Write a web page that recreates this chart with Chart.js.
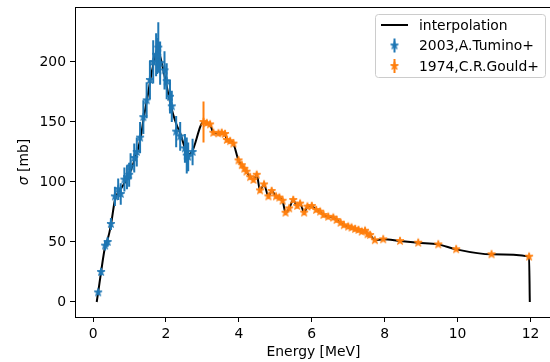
<!DOCTYPE html>
<html>
<head>
<meta charset="utf-8">
<script src="https://cdn.jsdelivr.net/npm/chart.js@4.4.0/dist/chart.umd.min.js"></script>
<style>
  html, body { margin: 0; padding: 0; background: #fff; overflow: hidden; }
  #wrap { width: 550px; height: 362px; }
</style>
</head>
<body>
<div id="wrap"><canvas id="chart" width="550" height="362"></canvas></div>
<script>
// Sigma vs energy - interpolation + two measurements

const seriesLabels = ['interpolation', '2003,A.Tumino+', '1974,C.R.Gould+'];
const xTicks = [0, 2, 4, 6, 8, 10, 12];
const yTicks = [0, 50, 100, 150, 200];

// 2003, A.Tumino+
const tuminoE   = [0.14, 0.22, 0.33, 0.40, 0.49, 0.60, 0.69, 0.76, 0.86, 0.93, 0.99, 1.03, 1.13, 1.20, 1.29, 1.38, 1.47, 1.56, 1.65, 1.73, 1.76, 1.79, 1.84, 1.96, 2.02, 2.11, 2.16, 2.28, 2.39, 2.52, 2.57, 2.61, 2.73];
const tuminoS   = [8, 25, 47, 50, 65, 88, 94, 90, 102, 104, 106, 113, 120, 125, 137, 154, 168, 185, 200, 206, 205, 212, 199, 193, 184, 171, 163, 142, 138, 128, 122, 121, 125];
const tuminoErr = [2, 3, 4, 4, 5, 8, 9, 9, 10, 10, 10, 11, 12, 12, 13, 14, 15, 16, 18, 18, 15, 21, 18, 16, 15, 14, 13, 13, 12, 12, 15, 12, 11];

// 1974, C.R.Gould+
const gouldE = [3.03, 3.12, 3.21, 3.30, 3.44, 3.53, 3.62, 3.67, 3.76, 3.85, 3.99, 4.08, 4.15, 4.21, 4.31, 4.40, 4.49, 4.58, 4.69, 4.81, 4.90, 5.02, 5.11, 5.20, 5.28, 5.38, 5.49, 5.60, 5.68, 5.79, 5.88, 6.00, 6.12, 6.23, 6.32, 6.45, 6.59, 6.68, 6.79, 6.88, 7.00, 7.09, 7.19, 7.28, 7.37, 7.46, 7.53, 7.60, 7.73, 7.96, 8.42, 8.92, 9.47, 9.96, 10.93, 11.96];
const gouldS = [150, 149, 148, 141, 140.5, 141, 140, 135, 134, 132, 118, 114, 111, 108.6, 104, 101.7, 106, 93, 98, 88, 92.5, 88, 87, 84.4, 74.4, 78, 85, 80, 82, 74.5, 79.5, 80, 76.7, 75.3, 72.5, 71, 70.3, 68.3, 66, 64, 62.8, 62, 60.8, 60, 58.6, 59.4, 56.4, 55.8, 51.5, 52.2, 50.8, 49.4, 48, 43.9, 39.7, 37.8];
const gouldErr = [17, 2, 2, 2, 2, 2, 2, 2, 2, 2, 2, 2, 2, 2, 2, 2, 2, 2, 2, 2, 2, 2, 2, 2, 2, 2, 2, 2, 2, 2, 2, 2, 2, 2, 2, 2, 2, 2, 2, 2, 2, 2, 2, 2, 2, 2, 2, 2, 1, 1, 1, 1, 1, 1, 1, 1];

// interpolation curve: smooth part over the Tumino range, then through the Gould points, then drop to 0
const interpHeadE = [0.10, 0.14, 0.22, 0.33, 0.40, 0.49, 0.60, 0.70, 0.80, 0.90, 1.00, 1.10, 1.20, 1.30, 1.40, 1.50, 1.60, 1.70, 1.76, 1.82, 1.90, 2.00, 2.10, 2.20, 2.30, 2.40, 2.50, 2.59, 2.71];
const interpHeadS = [0, 8, 25, 46, 52, 64, 85, 92, 96, 101, 107, 115, 124, 136, 155, 172, 190, 204, 210, 207, 197, 183, 168, 156, 147, 140, 130, 123, 125];
const interpTailE = [11.98];
const interpTailS = [0];

const BLUE = '#1f77b4';
const ORANGE = '#ff7f0e';
const FONT = "'DejaVu Sans', sans-serif";
const FS = 13.9;

function makeStar(color, r) {
    const c = document.createElement('canvas');
    const s = Math.ceil(r * 2 + 3);
    c.width = s; c.height = s;
    const g = c.getContext('2d');
    g.translate(s / 2, s / 2);
    g.beginPath();
    for (let i = 0; i < 10; i++) {
        const rad = i % 2 ? r * 0.382 : r;
        const a = -Math.PI / 2 + i * Math.PI / 5;
        g.lineTo(rad * Math.cos(a), rad * Math.sin(a));
    }
    g.closePath();
    g.fillStyle = color;
    g.fill();
    g.strokeStyle = color;
    g.lineWidth = 1;
    g.stroke();
    return c;
}

const starBlue = makeStar(BLUE, 4.2);
const starOrange = makeStar(ORANGE, 4.2);

const toPoints = (xs, ys) => xs.map((x, i) => ({ x: x, y: ys[i] }));

const errorBars = {
    id: 'errorBars',
    afterDatasetDraw(chart, args) {
        if (args.index !== 0) return;
        const { ctx, chartArea, scales: { x, y } } = chart;
        ctx.save();
        ctx.beginPath();
        ctx.rect(chartArea.left, chartArea.top, chartArea.width, chartArea.height);
        ctx.clip();
        ctx.lineWidth = 2;
        [[tuminoE, tuminoS, tuminoErr, BLUE], [gouldE, gouldS, gouldErr, ORANGE]].forEach(([es, ss, errs, col]) => {
            ctx.strokeStyle = col;
            ctx.beginPath();
            es.forEach((e, i) => {
                const px = x.getPixelForValue(e);
                ctx.moveTo(px, y.getPixelForValue(ss[i] - errs[i]));
                ctx.lineTo(px, y.getPixelForValue(ss[i] + errs[i]));
            });
            ctx.stroke();
        });
        ctx.restore();
    }
};

const frame = {
    id: 'frame',
    afterDraw(chart) {
        const { ctx, chartArea } = chart;
        ctx.save();
        // top spine (right spine falls just outside the picture)
        ctx.strokeStyle = '#000';
        ctx.lineWidth = 1;
        ctx.beginPath();
        ctx.moveTo(chartArea.left, chartArea.top + 0.5);
        ctx.lineTo(chartArea.right, chartArea.top + 0.5);
        ctx.stroke();

        // axis titles
        ctx.fillStyle = '#000';
        ctx.textBaseline = 'alphabetic';
        ctx.font = `${FS}px ${FONT}`;
        ctx.textAlign = 'center';
        ctx.fillText('Energy [MeV]', 313.5, 356);

        ctx.translate(28, (chartArea.top + chartArea.bottom) / 2);
        ctx.rotate(-Math.PI / 2);
        ctx.textAlign = 'left';
        ctx.font = `italic ${FS}px ${FONT}`;
        const w1 = ctx.measureText('σ').width;
        ctx.font = `${FS}px ${FONT}`;
        const w2 = ctx.measureText(' [mb]').width;
        const x0 = -(w1 + w2) / 2;
        ctx.font = `italic ${FS}px ${FONT}`;
        ctx.fillText('σ', x0, 0);
        ctx.font = `${FS}px ${FONT}`;
        ctx.fillText(' [mb]', x0 + w1, 0);
        ctx.restore();

        // legend
        ctx.save();
        ctx.beginPath();
        ctx.roundRect(375.5, 14.5, 170, 63, 3);
        ctx.fillStyle = 'rgba(255,255,255,0.8)';
        ctx.fill();
        ctx.strokeStyle = '#cccccc';
        ctx.lineWidth = 1;
        ctx.stroke();

        ctx.strokeStyle = '#000';
        ctx.lineWidth = 2;
        ctx.beginPath();
        ctx.moveTo(381, 25);
        ctx.lineTo(408, 25);
        ctx.stroke();

        [[BLUE, starBlue, 45.5], [ORANGE, starOrange, 66]].forEach(([col, star, cy]) => {
            ctx.strokeStyle = col;
            ctx.beginPath();
            ctx.moveTo(394.5, cy - 7);
            ctx.lineTo(394.5, cy + 7);
            ctx.stroke();
            ctx.drawImage(star, 394.5 - star.width / 2, cy - star.height / 2);
        });

        ctx.fillStyle = '#000';
        ctx.font = `${FS}px ${FONT}`;
        ctx.textAlign = 'left';
        ctx.fillText(seriesLabels[0], 419, 29.5);
        ctx.fillText(seriesLabels[1], 419, 50);
        ctx.fillText(seriesLabels[2], 419, 70.5);
        ctx.restore();
    }
};

const axisStyle = {
    grid: { display: true, drawOnChartArea: false, drawTicks: true, tickLength: 5, color: '#000', tickWidth: 1 },
    border: { display: true, color: '#000', width: 1 },
    ticks: { font: { family: FONT, size: FS }, color: '#000', padding: 4, maxRotation: 0 }
};

const ctx = document.getElementById('chart').getContext('2d');
new Chart(ctx, {
    type: 'line',
    data: {
        datasets: [
            {
                label: seriesLabels[0],
                data: toPoints(interpHeadE.concat(gouldE, interpTailE), interpHeadS.concat(gouldS, interpTailS)),
                borderColor: '#000',
                borderWidth: 2,
                pointRadius: 0,
                cubicInterpolationMode: 'monotone',
                fill: false,
                order: 3
            },
            {
                label: seriesLabels[1],
                data: toPoints(tuminoE, tuminoS),
                showLine: false,
                pointStyle: starBlue,
                pointRadius: 5,
                order: 2
            },
            {
                label: seriesLabels[2],
                data: toPoints(gouldE, gouldS),
                showLine: false,
                pointStyle: starOrange,
                pointRadius: 5,
                order: 1
            }
        ]
    },
    options: {
        responsive: false,
        animation: false,
        devicePixelRatio: 1,
        layout: { autoPadding: false, padding: { top: 7, right: 0, left: 0, bottom: 0 } },
        plugins: { legend: { display: false }, tooltip: { enabled: false } },
        scales: {
            x: {
                type: 'linear',
                min: -0.495,
                max: 12.534,
                afterFit: s => { s.height = 45; s.paddingLeft = 0; s.paddingRight = 0; },
                afterBuildTicks: s => { s.ticks = xTicks.map(v => ({ value: v })); },
                ...axisStyle
            },
            y: {
                type: 'linear',
                min: -12.5,
                max: 245.8,
                afterFit: s => { s.width = 75; s.paddingTop = 0; s.paddingBottom = 0; },
                afterBuildTicks: s => { s.ticks = yTicks.map(v => ({ value: v })); },
                ...axisStyle
            }
        }
    },
    plugins: [errorBars, frame]
});
</script>
</body>
</html>
